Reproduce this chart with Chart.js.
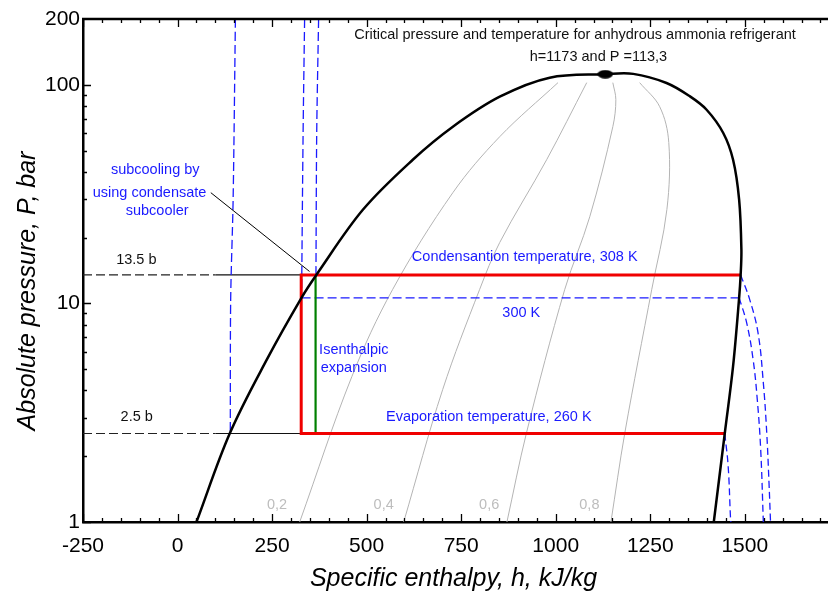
<!DOCTYPE html>
<html>
<head>
<meta charset="utf-8">
<title>Ammonia P-h diagram</title>
<script src="https://cdn.jsdelivr.net/npm/chart.js@4.4.0/dist/chart.umd.min.js"></script>
<style>
  body { margin: 0; background: #fff; }
  #wrap { width: 828px; height: 593px; }
</style>
</head>
<body>
<div id="wrap"><canvas id="chart" width="828" height="593"></canvas></div>
<script>
// axis ticks
const xTicks = [-250, 0, 250, 500, 750, 1000, 1250, 1500];
const xMinorStep = 50;
const yTicks = [1, 10, 100, 200];
const yMinorTicks = [2, 3, 4, 5, 6, 7, 8, 9, 20, 30, 40, 50, 60, 70, 80, 90];

// saturation dome, [h kJ/kg, P bar]: liquid side, critical point, vapour side
const satDome = [
  [50, 1], [138, 2.54], [236, 5.53], [328, 10.63], [367, 13.5], [490, 26.8],
  [622, 45.4], [728, 64.3], [852, 88.2], [984, 107.8], [1131, 111.8],
  [1205, 112.2], [1293, 101.9], [1355, 88.5], [1399, 76.9], [1443, 60.2], [1469, 45.4],
  [1485, 29.8], [1491, 17.6], [1489, 13.5], [1485, 10.6], [1469, 5.16], [1447, 2.54], [1418, 1]
];
const criticalPoint = [[1131, 111.8]];

// vapour quality lines
const quality02 = [[323, 1], [461, 4.63], [569, 11.6], [728, 32.1], [852, 57.9], [1006, 102.3]];
const quality04 = [[598, 1], [701, 4.03], [799, 11.6], [852, 19], [976, 45.4], [1082, 102.3]];
const quality06 = [[871, 1], [923, 2.57], [1024, 11.6], [1090, 24.9], [1151, 64.3], [1159, 85.5], [1151, 102.3]];
const quality08 = [[1146, 1], [1183, 2.57], [1254, 11.6], [1294, 26.9], [1299, 54.4], [1275, 79.4], [1222, 102.3]];
const qualityLabels = ['0,2', '0,4', '0,6', '0,8'];
const qualityLabelH = [263, 545, 824, 1089];

// isotherms 260 K, 300 K, 308 K
const iso260Liquid = [[153, 200], [147, 30], [140.5, 10.4], [139.5, 2.54]];
const iso300Liquid = [[336, 200], [332, 60], [328, 10.6]];
const iso308Liquid = [[373, 200], [368, 60], [366, 13.5]];
const iso300Mix = [[328, 10.6], [1485, 10.6]];
const iso260Vapour = [[1447, 2.54], [1456, 1.8], [1462, 1.06], [1463, 1]];
const iso300Vapour = [[1485, 10.6], [1505, 8.14], [1522, 5.53], [1533, 3.63], [1542, 2.15], [1549, 1]];
const iso308Vapour = [[1489, 13.5], [1513, 10.41], [1535, 7.33], [1549, 4.33], [1558, 2.56], [1564, 1.51], [1568, 1]];

// refrigeration cycle
const highP = 13.5;
const lowP = 2.54;
const cycleRed = [[1447, lowP], [327, lowP], [327, highP], [1489, highP]];
const expansionGreen = [[365, lowP], [365, highP]];
const refHighDashed = [[-250, highP], [100, highP]];
const refHighSolid = [[100, highP], [327, highP]];
const refLowDashed = [[-250, lowP], [100, lowP]];
const refLowSolid = [[100, lowP], [327, lowP]];
const leader = [[88, 32.1], [349, 14]];

// text notes, anchored in data units
const notes = [
  { text: 'Critical pressure and temperature for anhydrous ammonia refrigerant', h: 1051, p: 169.4, color: '#111' },
  { text: 'h=1173 and P =113,3', h: 1113, p: 133.7, color: '#111' },
  { text: 'Condensantion temperature, 308 K', h: 918, p: 16.37, color: '#1a1aff' },
  { text: '300 K', h: 909, p: 9.08, color: '#1a1aff' },
  { text: 'Evaporation temperature, 260 K', h: 823, p: 3.02, color: '#1a1aff' },
  { text: 'Isenthalpic', h: 466, p: 6.09, color: '#1a1aff' },
  { text: 'expansion', h: 466, p: 5.09, color: '#1a1aff' },
  { text: 'subcooling by', h: -59, p: 40.9, color: '#1a1aff' },
  { text: 'using condensate', h: -74, p: 32.1, color: '#1a1aff' },
  { text: 'subcooler', h: -54, p: 26.6, color: '#1a1aff' },
  { text: '13.5 b', h: -109, p: 15.86, color: '#111' },
  { text: '2.5 b', h: -108, p: 3.02, color: '#111' }
];

const FONT = '"Liberation Sans", Arial, sans-serif';
const BLUE = '#1a1aff';
const GREY = '#b4b4b4';

const pts = arr => arr.map(([h, p]) => ({ x: h, y: p }));

function line(data, color, width, dash, tension) {
  return {
    data: pts(data),
    showLine: true,
    borderColor: color,
    borderWidth: width,
    borderDash: dash || [],
    pointRadius: 0,
    tension: tension || 0
  };
}

// ellipse marker for the critical point
const ellipse = document.createElement('canvas');
ellipse.width = 16;
ellipse.height = 9;
(function () {
  const c = ellipse.getContext('2d');
  c.fillStyle = '#000';
  c.beginPath();
  c.ellipse(8, 4.5, 7.8, 4.2, 0, 0, Math.PI * 2);
  c.fill();
})();

const frame = {
  id: 'frame',
  afterDatasetsDraw(chart) {
    const { ctx, chartArea: a, scales: { x, y } } = chart;
    ctx.save();

    // top border
    ctx.strokeStyle = '#000';
    ctx.lineWidth = 2.5;
    ctx.beginPath();
    ctx.moveTo(a.left - 1, a.top);
    ctx.lineTo(a.right, a.top);
    ctx.stroke();

    // inward tick marks
    ctx.lineWidth = 1.3;
    ctx.beginPath();
    for (let v = xTicks[0]; v <= x.max; v += xMinorStep) {
      const px = Math.round(x.getPixelForValue(v)) + 0.5;
      const len = xTicks.includes(v) ? 8 : 4;
      ctx.moveTo(px, a.bottom);
      ctx.lineTo(px, a.bottom - len);
      ctx.moveTo(px, a.top);
      ctx.lineTo(px, a.top + len);
    }
    yTicks.concat(yMinorTicks).forEach(v => {
      if (v >= y.max) return;
      const py = Math.round(y.getPixelForValue(v)) + 0.5;
      const len = yMinorTicks.includes(v) ? 4 : 8;
      ctx.moveTo(a.left, py);
      ctx.lineTo(a.left + len, py);
    });
    ctx.stroke();

    // notes
    ctx.textAlign = 'center';
    ctx.textBaseline = 'middle';
    ctx.font = '14.5px ' + FONT;
    notes.forEach(n => {
      ctx.fillStyle = n.color;
      ctx.fillText(n.text, x.getPixelForValue(n.h), y.getPixelForValue(n.p));
    });
    ctx.fillStyle = '#bdbdbd';
    qualityLabels.forEach((t, i) => {
      ctx.fillText(t, x.getPixelForValue(qualityLabelH[i]), y.getPixelForValue(1.19));
    });

    // axis titles
    ctx.fillStyle = '#000';
    ctx.font = 'italic 25px ' + FONT;
    ctx.fillText('Specific enthalpy, h, kJ/kg', (a.left + a.right) / 2 - 2, 579);
    ctx.translate(28, 291);
    ctx.rotate(-Math.PI / 2);
    ctx.fillText('Absolute pressure, P, bar', 0, 0);
    ctx.restore();
  }
};

new Chart(document.getElementById('chart'), {
  type: 'scatter',
  data: {
    datasets: [
      {
        data: pts(criticalPoint),
        pointStyle: ellipse,
        pointRadius: 8,
        showLine: false
      },
      line(satDome, '#000', 2.5, null, 0.35),
      line(cycleRed, '#f00000', 3),
      line(expansionGreen, '#008000', 2.2),
      line(leader, '#000', 1),
      line(iso260Liquid, BLUE, 1.3, [9, 4], 0.3),
      line(iso300Liquid, BLUE, 1.3, [9, 4], 0.3),
      line(iso308Liquid, BLUE, 1.3, [9, 4], 0.3),
      line(iso300Mix, BLUE, 1.3, [9, 4]),
      line(iso260Vapour, BLUE, 1.3, [7, 4], 0.4),
      line(iso300Vapour, BLUE, 1.3, [7, 4], 0.4),
      line(iso308Vapour, BLUE, 1.3, [7, 4], 0.4),
      line(quality02, GREY, 1, null, 0.35),
      line(quality04, GREY, 1, null, 0.35),
      line(quality06, GREY, 1, null, 0.35),
      line(quality08, GREY, 1, null, 0.35),
      line(refHighDashed, '#222', 1.2, [9, 4]),
      line(refHighSolid, '#111', 1.2),
      line(refLowDashed, '#222', 1.2, [9, 4]),
      line(refLowSolid, '#111', 1.2)
    ]
  },
  options: {
    responsive: false,
    animation: false,
    events: [],
    layout: { autoPadding: false, padding: { top: 19, right: 0, left: 0, bottom: 0 } },
    plugins: { legend: { display: false }, tooltip: { enabled: false } },
    scales: {
      x: {
        type: 'linear',
        min: -250,
        max: 1720,
        afterBuildTicks: s => { s.ticks = xTicks.map(v => ({ value: v })); },
        afterFit: s => { s.height = 71; },
        grid: { display: false, drawTicks: false },
        border: { display: true, color: '#000', width: 2.5 },
        ticks: { color: '#000', padding: 12, maxRotation: 0, font: { family: FONT, size: 21 }, callback: v => String(v) }
      },
      y: {
        type: 'logarithmic',
        min: 1,
        max: 200,
        afterBuildTicks: s => { s.ticks = yTicks.map(v => ({ value: v })); },
        afterFit: s => { s.width = 83; },
        grid: { display: false, drawTicks: false },
        border: { display: true, color: '#000', width: 2.5 },
        ticks: { color: '#000', padding: 3, font: { family: FONT, size: 21 }, callback: v => String(v) }
      }
    }
  },
  plugins: [frame]
});
</script>
</body>
</html>
